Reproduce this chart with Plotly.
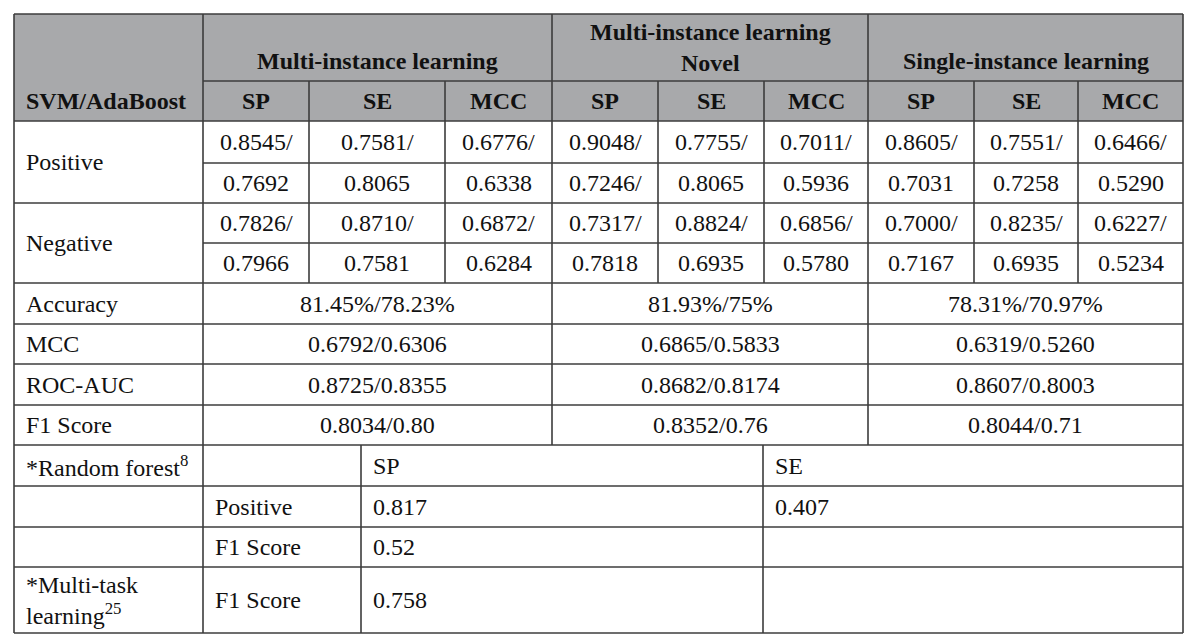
import plotly.graph_objects as go

# ---------------- data ----------------
corner_label = "SVM/AdaBoost"
groups = ["Multi-instance learning", "Multi-instance learning<br>Novel", "Single-instance learning"]
metrics = ["SP", "SE", "MCC"]

row_labels = ["Positive", "Negative"]
positive_top = ["0.8545/", "0.7581/", "0.6776/", "0.9048/", "0.7755/", "0.7011/", "0.8605/", "0.7551/", "0.6466/"]
positive_bottom = ["0.7692", "0.8065", "0.6338", "0.7246/", "0.8065", "0.5936", "0.7031", "0.7258", "0.5290"]
negative_top = ["0.7826/", "0.8710/", "0.6872/", "0.7317/", "0.8824/", "0.6856/", "0.7000/", "0.8235/", "0.6227/"]
negative_bottom = ["0.7966", "0.7581", "0.6284", "0.7818", "0.6935", "0.5780", "0.7167", "0.6935", "0.5234"]

summary_labels = ["Accuracy", "MCC", "ROC-AUC", "F1 Score"]
summary_values = [
    ["81.45%/78.23%", "81.93%/75%", "78.31%/70.97%"],
    ["0.6792/0.6306", "0.6865/0.5833", "0.6319/0.5260"],
    ["0.8725/0.8355", "0.8682/0.8174", "0.8607/0.8003"],
    ["0.8034/0.80", "0.8352/0.76", "0.8044/0.71"],
]

lower_col0 = ["*Random forest<sup>8</sup>", "", "", "*Multi-task<br>learning<sup>25</sup>"]
lower_col1 = ["", "Positive", "F1 Score", "F1 Score"]
lower_col2 = ["SP", "0.817", "0.52", "0.758"]
lower_col3 = ["SE", "0.407", "", ""]

# ---------------- layout geometry ----------------
col_edges = [14, 203, 309, 445, 552, 658, 764, 868, 974, 1078, 1183]
row_edges = [14, 81, 121, 163, 203, 243, 283, 324, 364, 405, 445, 486, 527, 567, 633]
lower_edges = [14, 203, 361, 763, 1183]

LINE = "#3c3c3c"
HEAD_FILL = "#a8a9ab"
TXT = "#111111"
FONT = "Liberation Serif"
BODY = 24
HEAD = 24

fig = go.Figure()
fig.add_trace(go.Scatter(x=[0, 1200], y=[0, 644], mode="markers",
                         marker=dict(opacity=0), hoverinfo="skip", showlegend=False))

shapes = []
shapes.append(dict(type="rect", x0=col_edges[0], x1=col_edges[-1], y0=row_edges[0], y1=row_edges[2],
                   fillcolor=HEAD_FILL, line=dict(width=0), layer="below"))

def hline(y, x0, x1):
    shapes.append(dict(type="line", x0=x0, x1=x1, y0=y, y1=y, line=dict(color=LINE, width=1.6)))

def vline(x, y0, y1):
    shapes.append(dict(type="line", x0=x, x1=x, y0=y0, y1=y1, line=dict(color=LINE, width=1.6)))

L, R = col_edges[0], col_edges[-1]
full_rows = [0, 2, 4, 6, 7, 8, 9, 10, 11, 12, 13, 14]
for i in full_rows:
    hline(row_edges[i], L, R)
for i in [1, 3, 5]:
    hline(row_edges[i], col_edges[1], R)
vline(L, row_edges[0], row_edges[-1])
vline(R, row_edges[0], row_edges[-1])
vline(col_edges[1], row_edges[0], row_edges[-1])
for j in [2, 3, 5, 6, 8, 9]:
    vline(col_edges[j], row_edges[1], row_edges[6])
for j in [4, 7]:
    vline(col_edges[j], row_edges[0], row_edges[10])
for x in lower_edges[2:4]:
    vline(x, row_edges[10], row_edges[-1])

ann = []

def text(x, y, s, bold=False, xanchor="center", size=None):
    ann.append(dict(x=x, y=y, text=s, showarrow=False, xanchor=xanchor, yanchor="middle",
                    font=dict(family=FONT, size=size or (HEAD if bold else BODY), color=TXT),
                    align="left" if xanchor == "left" else "center"))

def mid(a, b):
    return (a + b) / 2

PAD = 10
# header
text(L + PAD, mid(row_edges[1], row_edges[2]), "<b>" + corner_label + "</b>", xanchor="left", size=HEAD)
for g, name in enumerate(groups):
    x0, x1 = col_edges[1 + 3 * g], col_edges[4 + 3 * g]
    if "<br>" in name:
        text(mid(x0, x1), mid(row_edges[0], row_edges[1]), "<b>" + name + "</b>", size=HEAD)
    else:
        text(mid(x0, x1), mid(row_edges[0], row_edges[1]) + 13, "<b>" + name + "</b>", size=HEAD)
    for k, m in enumerate(metrics):
        c = 1 + 3 * g + k
        text(mid(col_edges[c], col_edges[c + 1]), mid(row_edges[1], row_edges[2]), "<b>" + m + "</b>", size=HEAD)

# positive / negative
blocks = [(positive_top, positive_bottom), (negative_top, negative_bottom)]
for b, (top, bot) in enumerate(blocks):
    r = 2 + 2 * b
    text(L + PAD, mid(row_edges[r], row_edges[r + 2]), row_labels[b], xanchor="left")
    for c in range(9):
        xc = mid(col_edges[c + 1], col_edges[c + 2])
        text(xc, mid(row_edges[r], row_edges[r + 1]), top[c])
        text(xc, mid(row_edges[r + 1], row_edges[r + 2]), bot[c])

# summary rows
for i, lab in enumerate(summary_labels):
    r = 6 + i
    yc = mid(row_edges[r], row_edges[r + 1])
    text(L + PAD, yc, lab, xanchor="left")
    for g in range(3):
        text(mid(col_edges[1 + 3 * g], col_edges[4 + 3 * g]), yc, summary_values[i][g])

# lower section
for i in range(4):
    r = 10 + i
    yc = mid(row_edges[r], row_edges[r + 1])
    for k, col in enumerate([lower_col0, lower_col1, lower_col2, lower_col3]):
        if col[i]:
            text(lower_edges[k] + PAD, yc, col[i], xanchor="left")

fig.update_layout(
    width=1200, height=644,
    margin=dict(l=0, r=0, t=0, b=0),
    paper_bgcolor="white", plot_bgcolor="white",
    xaxis=dict(range=[0, 1200], visible=False, fixedrange=True),
    yaxis=dict(range=[644, 0], visible=False, fixedrange=True),
    shapes=shapes, annotations=ann, showlegend=False,
)
fig.write_html("out.html", config={"displayModeBar": False},
               post_script="document.body.style.margin='0';document.body.style.overflow='hidden';")
